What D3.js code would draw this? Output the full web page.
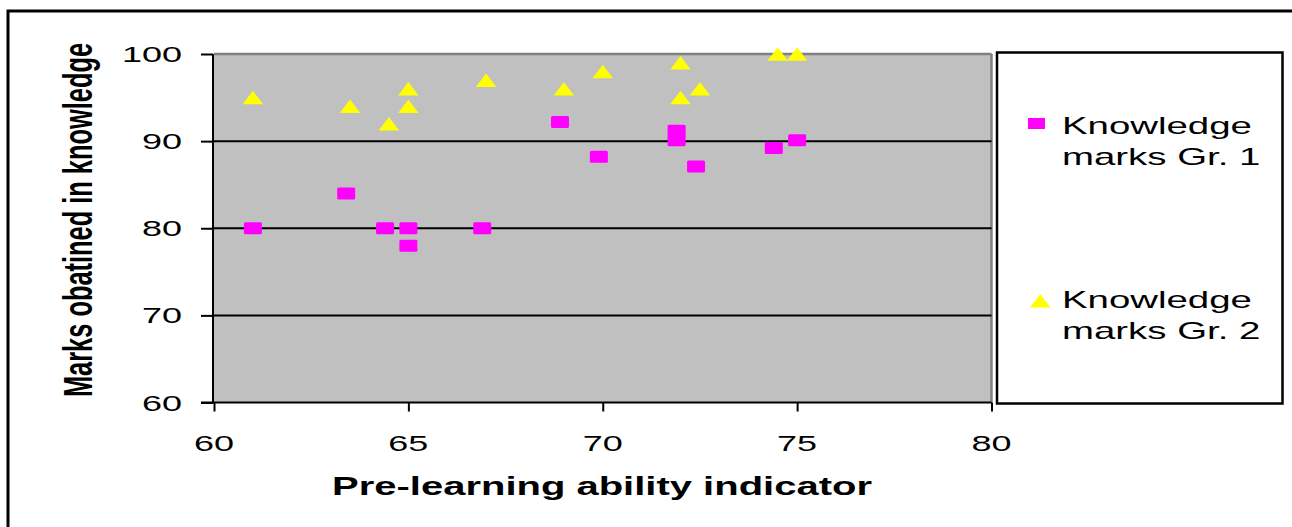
<!DOCTYPE html>
<html><head><meta charset="utf-8">
<script src="https://cdn.jsdelivr.net/npm/d3@7"></script>
<style>body{margin:0;background:#fff}svg{display:block}text{font-family:"Liberation Sans",Arial,sans-serif;fill:#000}</style>
</head><body><svg id="c" width="1292" height="527"></svg>
<script>
const xTicks = [60, 65, 70, 75, 80];
const yTicks = [60, 70, 80, 90, 100];
const g1X = [61, 63.4, 64.4, 65, 65, 66.9, 68.9, 69.9, 71.9, 71.9, 72.4, 74.4, 75];
const g1Y = [80, 84, 80, 80, 78, 80, 92.2, 88.2, 91.2, 90.1, 87.1, 89.2, 90.1];
const g2X = [61, 63.5, 64.5, 65, 65, 67, 69, 70, 72, 72, 72.5, 74.5, 75];
const g2Y = [95, 94, 92, 96, 94, 97, 96, 98, 99, 95, 96, 100, 100];
const seriesNames = [["Knowledge", "marks Gr. 1"], ["Knowledge", "marks Gr. 2"]];
const xTitle = "Pre-learning ability indicator";
const yTitle = "Marks obatined in knowledge";

const SX = 1.6;
const svg = d3.select("#c");
const x = d3.scaleLinear().domain([60, 80]).range([214, 991.5]);
const y = d3.scaleLinear().domain([60, 100]).range([402.5, 54]);

// outer frame
svg.append("rect").attr("x", 8).attr("y", 11).attr("width", 1400).attr("height", 700)
  .attr("fill", "none").attr("stroke", "#000").attr("stroke-width", 3);

// plot area
svg.append("rect").attr("x", x(60)).attr("y", y(100)).attr("width", x(80) - x(60)).attr("height", y(60) - y(100))
  .attr("fill", "#c0c0c0");
svg.append("line").attr("x1", x(60)).attr("x2", x(80)).attr("y1", y(100)).attr("y2", y(100))
  .attr("stroke", "#808080").attr("stroke-width", 2.5);
svg.append("line").attr("x1", x(80)).attr("x2", x(80)).attr("y1", y(100)).attr("y2", y(60))
  .attr("stroke", "#808080").attr("stroke-width", 2.5);

// gridlines
svg.append("g").selectAll("line").data(yTicks.filter(d => d > 60 && d < 100)).join("line")
  .attr("x1", x(60)).attr("x2", x(80)).attr("y1", d => y(d)).attr("y2", d => y(d))
  .attr("stroke", "#000").attr("stroke-width", 2);

// y axis
const yAxis = svg.append("g").attr("transform", `translate(${x(60) - 1},0)`)
  .call(d3.axisLeft(y).tickValues(yTicks).tickSize(12).tickFormat(""));
yAxis.selectAll("path,line").attr("stroke", "#000").attr("stroke-width", 2);
yAxis.select(".domain").attr("d", `M0,${y(100)}V${y(60)}`);
svg.append("g").selectAll("text").data(yTicks).join("text")
  .attr("transform", d => `translate(182,${y(d) + 8}) scale(${SX},1)`)
  .attr("text-anchor", "end").attr("font-size", 22.5).text(d => d);

// x axis
const xAxis = svg.append("g").attr("transform", `translate(0,${y(60)})`)
  .call(d3.axisBottom(x).tickValues(xTicks).tickSize(9).tickFormat(""));
xAxis.selectAll("path,line").attr("stroke", "#000").attr("stroke-width", 2);
xAxis.select(".domain").attr("d", `M${x(60) - 13},0H${x(80)}`);
svg.append("g").selectAll("text").data(xTicks).join("text")
  .attr("transform", d => `translate(${x(d)},451) scale(${SX},1)`)
  .attr("text-anchor", "middle").attr("font-size", 22.5).text(d => d);

// titles
svg.append("text").attr("transform", `translate(602,495) scale(${SX},1)`)
  .attr("text-anchor", "middle").attr("font-size", 25).attr("font-weight", "bold").text(xTitle);
svg.append("text").attr("transform", `translate(92,220) scale(${SX},1) rotate(-90)`)
  .attr("text-anchor", "middle").attr("font-size", 25.4).attr("font-weight", "bold").text(yTitle);

// markers
const SW = 18, SH = 12, TW = 20.5, TH = 13.5;
const tri = (cx, cy) => `M${cx - TW / 2},${cy + TH / 2}L${cx},${cy - TH / 2}L${cx + TW / 2},${cy + TH / 2}Z`;
svg.append("g").selectAll("rect").data(d3.range(g1X.length)).join("rect")
  .attr("x", i => x(g1X[i]) - SW / 2).attr("y", i => y(g1Y[i]) - SH / 2)
  .attr("width", SW).attr("height", SH).attr("rx", 1.5).attr("fill", "#ff00ff");
svg.append("g").selectAll("path").data(d3.range(g2X.length)).join("path")
  .attr("d", i => tri(x(g2X[i]), y(g2Y[i]))).attr("fill", "#ffff00");

// legend
svg.append("rect").attr("x", 997).attr("y", 52.5).attr("width", 285.5).attr("height", 351)
  .attr("fill", "#fff").attr("stroke", "#000").attr("stroke-width", 2.5);
svg.append("rect").attr("x", 1028).attr("y", 118).attr("width", 17).attr("height", 11).attr("fill", "#ff00ff");
svg.append("path").attr("d", `M1030,307.5L1040.3,294L1050.6,307.5Z`).attr("fill", "#ffff00");
const legBase = [[134, 165], [308, 339]];
seriesNames.forEach((lines, s) => {
  lines.forEach((t, j) => {
    svg.append("text").attr("transform", `translate(1062,${legBase[s][j]}) scale(${SX},1)`)
      .attr("font-size", 24).text(t);
  });
});
</script></body></html>
